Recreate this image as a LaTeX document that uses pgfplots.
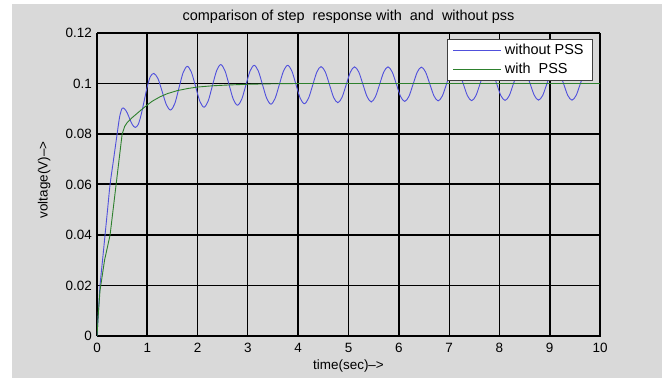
\documentclass[border=0pt]{standalone}
\usepackage{fontspec}
\setmainfont{Liberation Sans}
\usepackage{pgfplots}
\pgfplotsset{compat=1.18}

\definecolor{figgray}{RGB}{217,217,217}
\definecolor{lineblue}{RGB}{80,80,220}
\definecolor{linegreen}{RGB}{45,128,45}

\newcommand{\tickfont}{\fontsize{13.5}{16}\selectfont}
\newcommand{\labfont}{\fontsize{13.5}{16}\selectfont}
\newcommand{\titlefont}{\fontsize{14.5}{17}\selectfont}

\begin{document}
\begin{tikzpicture}
\useasboundingbox (-97bp,-42bp) rectangle (571bp,336bp);
\fill[white] (-97bp,-42bp) rectangle (571bp,336bp);
\fill[figgray] (-85bp,-42bp) rectangle (565bp,332bp);
\begin{axis}[
  at={(0,0)}, anchor=south west,
  scale only axis, width=503bp, height=303bp,
  xmin=0, xmax=10, ymin=0, ymax=0.12,
  axis line style={black, line width=0.8bp},
  major tick length=0pt,
  xtick={0,2,3,5,7,8,10}, xticklabels={0,2,3,5,7,8,10},
  ytick={0,0.02,0.08,0.1,0.12}, yticklabels={0,0.02,0.08,0.1,0.12},
  extra x ticks={1,4,6,9}, extra x tick labels={1,4,6,9},
  extra y ticks={0.04,0.06}, extra y tick labels={0.04,0.06},
  grid=major,
  major grid style={black, line width=1.1bp},
  extra x tick style={grid=major, major grid style={black, line width=2bp}},
  extra y tick style={grid=major, major grid style={black, line width=2bp}},
  xticklabel style={font=\tickfont, inner sep=0pt, yshift=-7bp},
  yticklabel style={font=\tickfont, inner sep=0pt, xshift=-5bp},
  title={comparison of step\ \ response with\ \ and\ \ without pss},
  title style={at={(axis description cs:0.5,1.033)}, anchor=center, font=\titlefont},
  xlabel={time(sec)-->},
  xlabel style={at={(axis description cs:0.5,-0.099)}, anchor=center, font=\labfont},
  ylabel={voltage(V)-->},
  ylabel style={at={(axis description cs:-0.105,0.515)}, anchor=center, font=\labfont},
  legend style={at={(1,1)}, anchor=north east, xshift=-7bp, yshift=-6bp,
    draw=black!75, line width=0.8bp, fill=white,
    font=\fontsize{14.5}{17}\selectfont,
    inner xsep=6bp, inner ysep=1.5bp,
    nodes={inner ysep=3.5bp, inner xsep=3bp},
    cells={anchor=west}},
  legend image code/.code={\draw[#1, line width=1bp] (0bp,0bp) -- (48bp,0bp);},
]
% response of the machine without the stabiliser
\addplot[lineblue, line width=0.9bp, smooth] coordinates {
(0,0) (0.03,0.010) (0.06,0.020) (0.11,0.030) (0.16,0.040) (0.21,0.050)
(0.26,0.060) (0.33,0.070) (0.40,0.080) (0.45,0.0868) (0.50,0.0902)
(0.55,0.0899) (0.60,0.0884) (0.65,0.0860) (0.70,0.0838) (0.76,0.0826)
(0.82,0.0838) (0.88,0.0878) (0.94,0.0933) (1.00,0.0988) (1.06,0.1027)
(1.13,0.1040)
(1.213,0.1019) (1.296,0.0968) (1.379,0.0916) (1.4625,0.0895)
(1.546,0.0920) (1.629,0.0982) (1.712,0.1043) (1.795,0.1068)
(1.878,0.1044) (1.961,0.0987) (2.044,0.0930) (2.1275,0.0906)
(2.211,0.0931) (2.294,0.0991) (2.377,0.1050) (2.460,0.1075)
(2.543,0.1051) (2.626,0.0995) (2.709,0.0938) (2.7925,0.0914)
(2.876,0.0937) (2.959,0.0993) (3.042,0.1049) (3.125,0.1072)
(3.208,0.1049) (3.291,0.0995) (3.374,0.0941) (3.4575,0.0918)
(3.541,0.0941) (3.624,0.0995) (3.707,0.1049) (3.790,0.1072)
(3.873,0.1050) (3.956,0.0996) (4.039,0.0942) (4.1225,0.0920)
(4.206,0.0942) (4.289,0.0994) (4.372,0.1046) (4.455,0.1067)
(4.538,0.1046) (4.621,0.0996) (4.704,0.0945) (4.7875,0.0924)
(4.871,0.0945) (4.954,0.0995) (5.037,0.1045) (5.120,0.1066)
(5.203,0.1046) (5.286,0.0997) (5.369,0.0948) (5.4525,0.0927)
(5.536,0.0948) (5.619,0.0997) (5.702,0.1046) (5.785,0.1066)
(5.868,0.1046) (5.951,0.0998) (6.034,0.0949) (6.1175,0.0929)
(6.201,0.0949) (6.284,0.0997) (6.367,0.1045) (6.450,0.1065)
(6.533,0.1045) (6.616,0.0998) (6.699,0.0951) (6.7825,0.0931)
(6.866,0.0951) (6.949,0.0998) (7.032,0.1045) (7.115,0.1065)
(7.198,0.1046) (7.281,0.0999) (7.364,0.0952) (7.4475,0.0932)
(7.531,0.0951) (7.614,0.0998) (7.697,0.1045) (7.780,0.1064)
(7.863,0.1045) (7.946,0.0999) (8.029,0.0952) (8.1125,0.0933)
(8.196,0.0952) (8.279,0.0999) (8.362,0.1045) (8.445,0.1064)
(8.528,0.1045) (8.611,0.0999) (8.694,0.0953) (8.7775,0.0934)
(8.861,0.0953) (8.944,0.0999) (9.027,0.1044) (9.110,0.1063)
(9.193,0.1044) (9.276,0.0999) (9.359,0.0953) (9.4425,0.0934)
(9.526,0.0953) (9.609,0.0999) (9.692,0.1044) (9.775,0.1063)
(9.858,0.1044)
};
\addlegendentry{without PSS}
% response with the power system stabiliser
\addplot[linegreen, line width=0.9bp] coordinates {
(0,0) (0.03,0.010) (0.06,0.018) (0.15,0.030) (0.26,0.040) (0.32,0.050)
(0.38,0.060) (0.44,0.070) (0.50,0.080) (0.55,0.0830) (0.60,0.0845)
(0.70,0.0865) (0.80,0.0882) (0.90,0.0899) (1.00,0.0915) (1.10,0.0930)
(1.25,0.0947) (1.40,0.0960) (1.60,0.0972) (1.80,0.0980) (2.00,0.0986)
(2.30,0.0991) (2.60,0.0994) (3.00,0.0997) (3.50,0.0999) (4.00,0.1000)
(10.00,0.1000)
};
\addlegendentry{with\ \ PSS}
\end{axis}
\end{tikzpicture}
\end{document}
